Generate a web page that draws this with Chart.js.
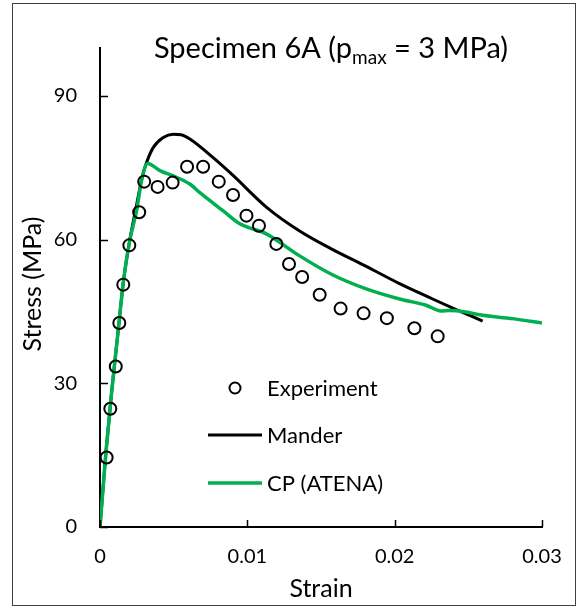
<!DOCTYPE html>
<html>
<head>
<meta charset="utf-8">
<script src="https://cdn.jsdelivr.net/npm/chart.js@4.4.0/dist/chart.umd.min.js"></script>
<style>
  body { margin: 0; background: #fff; }
</style>
</head>
<body>
<canvas id="myChart" width="588" height="609"></canvas>
<script>
// experiment points (strain, stress in MPa)
const expStrain = [0.00045, 0.0007, 0.00107, 0.00131, 0.00158, 0.00199, 0.00266, 0.0030, 0.00391, 0.00493,
                   0.00591, 0.0070, 0.00806, 0.00903, 0.00994, 0.01079, 0.01197, 0.01283, 0.01372, 0.01491,
                   0.01633, 0.01789, 0.01947, 0.02134, 0.02292];
const expStress = [14.5, 24.7, 33.5, 42.6, 50.6, 58.8, 65.7, 72.1, 71.0, 71.9,
                   75.2, 75.2, 72.1, 69.3, 65.0, 62.9, 59.1, 54.9, 52.2, 48.5,
                   45.6, 44.6, 43.6, 41.5, 39.8];

// Mander model
const manderStrain = [0, 0.0004, 0.0008, 0.0012, 0.0016, 0.002, 0.0025, 0.0029, 0.00316, 0.00361, 0.00429, 0.00497,
                      0.0055, 0.0061, 0.00768, 0.00903, 0.01129, 0.01355, 0.0158, 0.01807, 0.02033, 0.02258,
                      0.02417, 0.02597];
const manderStress = [0, 15.5, 28.5, 40, 51.5, 59.5, 67.5, 73.5, 76.1, 79.2, 81.3, 82.0,
                      81.9, 81.0, 77.1, 73.4, 66.8, 61.8, 57.9, 54.4, 50.8, 47.6,
                      45.4, 43.0];

// CP (ATENA)
const cpStrain = [0, 0.0004, 0.0008, 0.0012, 0.0016, 0.002, 0.0025, 0.00282, 0.00323, 0.00407, 0.00497, 0.0061,
                  0.00678, 0.00836, 0.00949, 0.01129, 0.01355, 0.01581, 0.01807, 0.02033, 0.02213, 0.02315,
                  0.02371, 0.02484, 0.02575, 0.028, 0.030];
const cpStress = [0, 15.5, 28.5, 40, 51.5, 59.5, 66.3, 72.3, 75.9, 74.4, 73.3, 71.6,
                  69.8, 66.0, 63.3, 61.2, 56.6, 52.6, 49.7, 47.6, 46.3, 45.1,
                  45.2, 44.9, 44.3, 43.5, 42.6];

const xTicks = [0, 0.01, 0.02, 0.03];
const yTicks = [0, 30, 60, 90];

const FONT = 'Lato';
const GREEN = 'rgb(0,176,80)';

function toPts(xs, ys) {
  return xs.map((x, i) => ({ x: x, y: ys[i] }));
}

const decor = {
  id: 'decor',
  beforeDraw(chart) {
    const ctx = chart.ctx;
    ctx.save();
    ctx.fillStyle = '#fff';
    ctx.fillRect(0, 0, chart.width, chart.height);
    ctx.strokeStyle = '#404040';
    ctx.lineWidth = 1;
    ctx.strokeRect(12.5, 3.5, 563, 602);
    ctx.restore();
  },
  afterDraw(chart) {
    const ctx = chart.ctx;
    const area = chart.chartArea;
    const xs = chart.scales.x, ys = chart.scales.y;
    ctx.save();

    // tick marks pointing inward
    ctx.strokeStyle = '#000';
    ctx.lineWidth = 1.5;
    ctx.beginPath();
    xs.ticks.forEach(t => {
      const px = Math.round(xs.getPixelForValue(t.value)) + 0.5;
      ctx.moveTo(px, area.bottom);
      ctx.lineTo(px, area.bottom - 7);
    });
    ys.ticks.forEach(t => {
      const py = Math.round(ys.getPixelForValue(t.value)) + 0.5;
      ctx.moveTo(area.left, py);
      ctx.lineTo(area.left + 8, py);
    });
    ctx.stroke();

    ctx.fillStyle = '#000';
    // title with subscript
    const big = '29px ' + FONT, small = '19px ' + FONT;
    const t1 = 'Specimen 6A (p', t2 = 'max', t3 = ' = 3 MPa)';
    ctx.font = big;
    const w1 = ctx.measureText(t1).width, w3 = ctx.measureText(t3).width;
    ctx.font = small;
    const w2 = ctx.measureText(t2).width;
    let tx = 331 - (w1 + w2 + w3) / 2;
    const ty = 58;
    ctx.textBaseline = 'alphabetic';
    ctx.textAlign = 'left';
    ctx.font = big; ctx.fillText(t1, tx, ty); tx += w1;
    ctx.font = small; ctx.fillText(t2, tx, ty + 6); tx += w2;
    ctx.font = big; ctx.fillText(t3, tx, ty);

    // axis titles
    ctx.font = '25px ' + FONT;
    ctx.textAlign = 'center';
    ctx.textBaseline = 'middle';
    ctx.fillText('Strain', (area.left + area.right) / 2, 589);
    ctx.save();
    ctx.translate(33, 284);
    ctx.rotate(-Math.PI / 2);
    ctx.fillText('Stress (MPa)', 0, 0);
    ctx.restore();

    // legend inside the plot
    const dsets = chart.data.datasets;
    const rows = [388, 435, 483];
    ctx.font = '22px ' + FONT;
    ctx.textAlign = 'left';
    dsets.forEach((ds, i) => {
      const y = rows[i];
      ctx.strokeStyle = ds.borderColor;
      ctx.lineWidth = ds.borderWidth;
      ctx.beginPath();
      if (ds.showLine) {
        ctx.moveTo(208, y);
        ctx.lineTo(262, y);
      } else {
        ctx.arc(235, y, 5.5, 0, Math.PI * 2);
      }
      ctx.stroke();
      ctx.fillStyle = '#000';
      ctx.fillText(ds.label, 267, y + 1);
    });
    ctx.restore();
  }
};

const ctx = document.getElementById('myChart');

new Chart(ctx, {
  type: 'scatter',
  data: {
    datasets: [
      {
        label: 'Experiment',
        data: toPts(expStrain, expStress),
        showLine: false,
        pointStyle: 'circle',
        pointRadius: 6,
        borderColor: '#000',
        borderWidth: 2,
        backgroundColor: 'rgba(0,0,0,0)'
      },
      {
        label: 'Mander',
        data: toPts(manderStrain, manderStress),
        showLine: true,
        borderColor: '#000',
        borderWidth: 3,
        pointRadius: 0,
        cubicInterpolationMode: 'monotone',
        order: 2
      },
      {
        label: 'CP (ATENA)',
        data: toPts(cpStrain, cpStress),
        showLine: true,
        borderColor: GREEN,
        borderWidth: 3.5,
        pointRadius: 0,
        cubicInterpolationMode: 'monotone',
        order: 1
      }
    ]
  },
  options: {
    responsive: false,
    animation: false,
    layout: { padding: { left: 0, right: 46, top: 48, bottom: 0 } },
    plugins: {
      legend: { display: false },
      title: { display: false },
      tooltip: { enabled: false }
    },
    scales: {
      x: {
        type: 'linear',
        min: 0,
        max: 0.03,
        afterBuildTicks: s => { s.ticks = xTicks.map(v => ({ value: v })); },
        afterFit: s => { s.height = 82; },
        grid: { display: false, drawTicks: false },
        border: { display: true, color: '#000', width: 2 },
        ticks: {
          padding: 18,
          color: '#000',
          font: { family: FONT, size: 20 },
          callback: v => String(v)
        }
      },
      y: {
        type: 'linear',
        min: 0,
        max: 100,
        afterBuildTicks: s => { s.ticks = yTicks.map(v => ({ value: v })); },
        afterFit: s => { s.width = 100; },
        grid: { display: false, drawTicks: false },
        border: { display: true, color: '#000', width: 2 },
        ticks: {
          padding: 23,
          color: '#000',
          font: { family: FONT, size: 20 },
          callback: v => String(v)
        }
      }
    }
  },
  plugins: [decor]
});
</script>
</body>
</html>
